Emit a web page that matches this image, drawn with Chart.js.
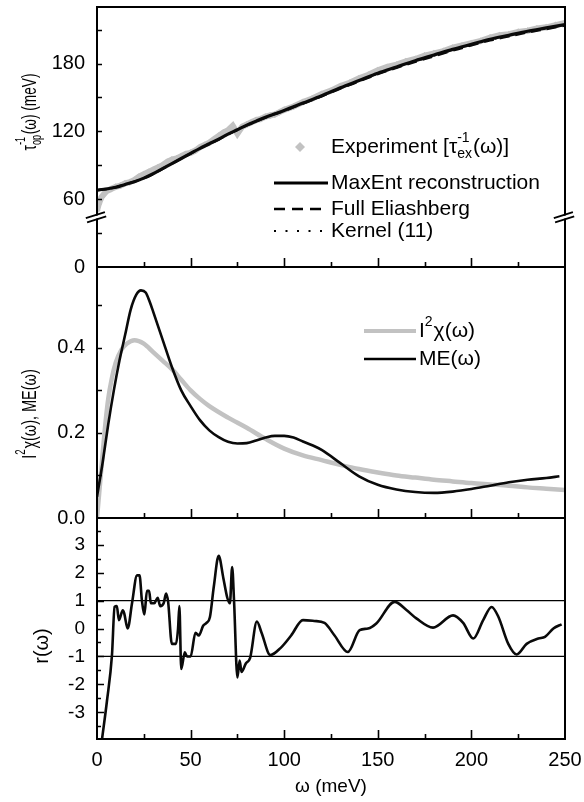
<!DOCTYPE html>
<html>
<head>
<meta charset="utf-8">
<script src="https://cdn.jsdelivr.net/npm/chart.js@4/dist/chart.umd.min.js"></script>
<style>
  body { margin: 0; background: #fff; }
  #wrap { position: relative; width: 584px; height: 802px; }
  #wrap canvas { position: absolute; left: 0; top: 0; }
</style>
</head>
<body>
<div id="wrap">
  <canvas id="tauChart" width="584" height="802"></canvas>
  <canvas id="alphaChart" width="584" height="802"></canvas>
  <canvas id="resChart" width="584" height="802"></canvas>
</div>
<script>
const FONT = '"Liberation Sans", Arial, sans-serif';

// shared omega axis
const omegaTicks = [0, 50, 100, 150, 200, 250];
const omegaMinor = [25, 75, 125, 175, 225];

// top panel: optical scattering rate (meV)
const maxEntW = [0, 5, 10, 15, 20, 25, 30, 35, 40, 45, 50, 55, 60, 65, 70, 75, 80, 85, 90, 95, 100,
  110, 120, 130, 140, 150, 160, 170, 180, 190, 200, 210, 220, 230, 240, 250];
const maxEntTau = [68, 69, 70.5, 73, 75.5, 78.6, 82.5, 87, 91.5, 96, 100.5, 105, 109, 113, 117.5, 121.5, 125.5, 129, 132.5, 135.5, 138.5,
  145, 151.5, 158.5, 165, 171.5, 177, 182.5, 187.5, 192.5, 197, 201.5, 205, 208.5, 211.5, 214.5];
const eliashTau = [68, 69, 70.5, 73, 75.5, 78.5, 82.3, 86.8, 91.3, 95.8, 100.3, 104.8, 108.8, 112.8, 117.2, 121.2, 125.2, 128.7, 132.2, 135.2, 138.2,
  144.6, 151, 157.8, 164.2, 170.6, 176.2, 181.5, 186.5, 191.5, 196, 200.5, 204, 207.5, 210.5, 213.5];
const kernelTau = [68, 69, 70.5, 73, 75.5, 78.6, 82.5, 87, 91.4, 95.9, 100.4, 104.9, 108.9, 112.9, 117.4, 121.4, 125.4, 128.9, 132.4, 135.4, 138.4,
  144.8, 151.3, 158.2, 164.6, 171, 176.6, 182, 187, 192, 196.5, 201, 204.5, 208, 211, 214];
const expW = [0, 1, 2.5, 5, 7.5, 10, 12.5, 15, 17.5, 20, 22.5, 25, 27.5, 30, 32.5, 35, 37.5, 40, 42.5, 45, 47.5,
  50, 52.5, 55, 57.5, 60, 62.5, 65, 67.5, 70, 72.5, 75, 77.5, 80, 82.5, 85, 87.5, 90, 92.5, 95, 97.5,
  100, 105, 110, 115, 120, 125, 130, 135, 140, 145, 150, 155, 160, 165, 170, 175, 180, 185, 190, 195,
  200, 205, 210, 215, 220, 225, 230, 235, 240, 245, 250];
const expTau = [50, 56, 62, 67, 69, 71, 72, 74, 75, 77, 80, 82, 84, 86, 88, 90, 93, 95, 96, 98, 100,
  101, 103, 106, 108, 110, 113, 116, 119, 121, 125, 118, 124, 126, 128, 130, 131, 133, 134, 135, 137,
  139, 142, 146, 149, 153, 156, 160, 163, 167, 170, 174, 177, 179, 182, 184, 187, 189, 191, 194, 196,
  198, 200, 203, 205, 206, 208, 209, 211, 212, 214, 216];
const tauTicks = [0, 60, 120, 180];
const tauMinor = [30, 90, 150, 210];

// middle panel: spectral functions
const chiW = [0, 2, 4, 6, 8, 10, 13, 16, 20, 25, 30, 35, 40, 45, 50, 55, 60, 70, 80, 90, 100,
  110, 120, 130, 140, 150, 160, 170, 180, 190, 200, 210, 220, 230, 240, 250];
const chiVal = [0.0, 0.1, 0.2, 0.28, 0.33, 0.365, 0.395, 0.41, 0.418, 0.41, 0.39, 0.37, 0.35, 0.325, 0.3, 0.28, 0.263, 0.236, 0.212, 0.186, 0.163,
  0.147, 0.136, 0.125, 0.115, 0.107, 0.1, 0.095, 0.09, 0.086, 0.082, 0.079, 0.076, 0.072, 0.069, 0.066];
const meW = [0, 3, 6, 9, 12, 15, 18, 21, 23.5, 26, 28, 30, 35, 40, 45, 50, 55, 60, 65, 70, 75, 80, 85, 90, 95,
  100, 105, 110, 115, 120, 130, 140, 150, 160, 170, 180, 190, 200, 210, 220, 230, 240, 247];
const meVal = [0.05, 0.13, 0.22, 0.3, 0.37, 0.43, 0.49, 0.525, 0.535, 0.53, 0.51, 0.485, 0.42, 0.355, 0.3, 0.263, 0.23, 0.206, 0.19, 0.179, 0.175, 0.176, 0.182, 0.189, 0.193,
  0.193, 0.189, 0.18, 0.171, 0.16, 0.129, 0.098, 0.078, 0.067, 0.061, 0.059, 0.062, 0.068, 0.076, 0.084, 0.09, 0.094, 0.098];
const alphaTicks = [0, 0.2, 0.4];
const alphaMinor = [0.1, 0.3, 0.5];

// bottom panel: normalized residuals
const resW = [2.7, 5.3, 8, 9.4, 10.6, 11.7, 13.8, 14.5, 16.4, 18.7, 21.4, 22.7, 24, 25.3, 26.7, 27.8, 28.8, 30.6, 32.4, 33.8,
  35.6, 36.9, 38, 40, 42.2, 43.3, 44, 45, 46.9, 48.1, 50, 52.6, 54.4, 56.7, 58.5, 60.3, 62.4, 65, 67.5, 69.6,
  71, 72.2, 73.2, 75, 76.2, 77.2, 79.5, 81.8, 85.4, 87.9, 92.6, 98, 103.7, 110, 116, 121.5, 126.8, 134, 140.3, 144.8,
  149.2, 159, 165.3, 170.6, 179.5, 190.2, 195.6, 201, 206.3, 210.8, 214.4, 219.7, 224.2, 229.5, 235.8, 239.3, 243.8, 248.2];
const resVal = [-3.95, -2.6, -0.95, 0.77, 0.8, 0.3, 0.65, 0.55, 0.0, 0.9, 1.9, 1.9, 1.0, 0.5, 1.35, 1.35, 0.9, 0.9, 1.1, 0.8,
  0.9, 1.25, 0.95, -0.55, -0.55, 0.0, 0.8, -1.45, -0.85, -1.0, -1.0, -0.15, -0.25, 0.1, 0.2, 0.4, 1.5, 2.6, 1.8, 1.1,
  0.9, 2.2, 1.0, -1.75, -1.15, -1.55, -1.25, -1.05, 0.25, -0.15, -0.95, -0.7, -0.25, 0.3, 0.27, 0.2, -0.24, -0.84, -0.06, 0.0,
  0.18, 0.95, 0.66, 0.36, 0.03, 0.47, 0.2, -0.36, 0.3, 0.77, 0.42, -0.55, -0.93, -0.55, -0.36, -0.3, 0.0, 0.15];
const resTicks = [-3, -2, -1, 0, 1, 2, 3];
const resMinor = [-3.5, -2.5, -1.5, -0.5, 0.5, 1.5, 2.5, 3.5];
const resLevels = [-1, 1];

const pts = (xs, ys) => xs.map((x, i) => ({ x, y: ys[i] }));

// text with stacked super/subscripts, e.g. ['τ', {sup:'-1', sub:'op'}, '(ω)']
function drawRich(ctx, segs, x, y, size, align) {
  const big = size + 'px ' + FONT;
  const small = Math.round(size * 0.68) + 'px ' + FONT;
  const widthOf = s => {
    if (typeof s === 'string') { ctx.font = big; return ctx.measureText(s).width; }
    ctx.font = small;
    return Math.max(s.sup ? ctx.measureText(s.sup).width : 0, s.sub ? ctx.measureText(s.sub).width : 0) + 1;
  };
  const total = segs.reduce((a, s) => a + widthOf(s), 0);
  let cx = align === 'center' ? x - total / 2 : x;
  ctx.textAlign = 'left';
  ctx.textBaseline = 'middle';
  segs.forEach(s => {
    const w = widthOf(s);
    if (typeof s === 'string') {
      ctx.font = big;
      ctx.fillText(s, cx, y);
    } else {
      ctx.font = small;
      if (s.sup) ctx.fillText(s.sup, cx, y - size * 0.42);
      if (s.sub) ctx.fillText(s.sub, cx, y + size * 0.36);
    }
    cx += w;
  });
}

function drawMark(ctx, m, x0, x1, y) {
  ctx.save();
  ctx.strokeStyle = m.color;
  ctx.fillStyle = m.color;
  if (m.kind === 'diamond') {
    const cx = (x0 + x1) / 2 - 1, r = 5;
    ctx.beginPath();
    ctx.moveTo(cx, y - r); ctx.lineTo(cx + r, y); ctx.lineTo(cx, y + r); ctx.lineTo(cx - r, y);
    ctx.closePath();
    ctx.fill();
  } else {
    ctx.lineWidth = m.width;
    ctx.setLineDash(m.dash || []);
    ctx.beginPath();
    ctx.moveTo(x0, y); ctx.lineTo(x1, y);
    ctx.stroke();
  }
  ctx.restore();
}

const decor = {
  id: 'decor',
  afterDatasetsDraw(chart, args, o) {
    const { ctx, chartArea: a, scales: { x, y } } = chart;
    ctx.save();
    ctx.strokeStyle = '#000';
    ctx.fillStyle = '#000';

    // inward tick marks
    ctx.lineWidth = 1.6;
    ctx.beginPath();
    omegaTicks.concat(omegaMinor).forEach(v => {
      if (v <= x.min || v >= x.max) return;
      const px = Math.round(x.getPixelForValue(v)) + 0.5;
      const len = omegaTicks.includes(v) ? 9 : 5;
      ctx.moveTo(px, a.bottom); ctx.lineTo(px, a.bottom - len);
    });
    o.yMajor.concat(o.yMinor).forEach(v => {
      if (v <= y.min || v >= y.max) return;
      const py = Math.round(y.getPixelForValue(v)) + 0.5;
      const len = o.yMajor.includes(v) ? o.majorLen : o.minorLen;
      ctx.moveTo(a.left, py); ctx.lineTo(a.left + len, py);
    });
    ctx.stroke();

    // frame
    ctx.lineWidth = 2;
    ctx.strokeRect(a.left, a.top, a.right - a.left, a.bottom - a.top);

    // axis break marks
    if (o.breakAt !== undefined) {
      const by = y.getPixelForValue(o.breakAt);
      [a.left - 1, a.right - 1].forEach(bx => {
        ctx.save();
        ctx.translate(bx, by);
        ctx.rotate(-0.3);
        ctx.fillStyle = '#fff';
        ctx.fillRect(-12, -1.4, 24, 2.8);
        ctx.strokeStyle = '#000';
        ctx.lineWidth = 1.8;
        ctx.beginPath();
        ctx.moveTo(-10, -2.2); ctx.lineTo(10, -2.2);
        ctx.moveTo(-10, 2.2); ctx.lineTo(10, 2.2);
        ctx.stroke();
        ctx.restore();
      });
    }

    // y axis title (rotated, condensed like the original lettering)
    ctx.save();
    ctx.translate(o.title.x, o.title.y);
    ctx.rotate(-Math.PI / 2);
    ctx.scale(o.title.squeeze || 1, 1);
    ctx.fillStyle = '#000';
    drawRich(ctx, o.title.text, 0, 0, o.title.size, 'center');
    ctx.restore();

    // legend
    (o.legend || []).forEach(item => {
      drawMark(ctx, item.mark, o.legendX0, o.legendX1, item.y);
      ctx.fillStyle = '#000';
      drawRich(ctx, item.text, o.legendX1 + 3, item.y, o.legendSize, 'left');
    });
    ctx.restore();
  }
};

function yScale(min, max, ticks, fmt, size) {
  return {
    type: 'linear', min, max,
    grid: { display: false, drawTicks: false },
    border: { display: false },
    afterFit: s => { s.width = 97; s.paddingTop = 0; s.paddingBottom = 0; },
    afterBuildTicks: s => { s.ticks = ticks.map(v => ({ value: v })); },
    ticks: { padding: 12, color: '#000', font: { family: FONT, size }, callback: fmt }
  };
}

function hiddenX() {
  return { type: 'linear', min: 0, max: 250, display: false };
}

function lineSet(data, color, width, extra) {
  return Object.assign({
    data, borderColor: color, backgroundColor: color, borderWidth: width,
    pointRadius: 0, fill: false, cubicInterpolationMode: 'monotone'
  }, extra || {});
}

// top panel
new Chart(document.getElementById('tauChart'), {
  type: 'line',
  data: {
    datasets: [
      lineSet(pts(maxEntW, maxEntTau), '#0a0a0a', 3.2),
      lineSet(pts(maxEntW, eliashTau), '#0a0a0a', 2.4, { borderDash: [10, 6] }),
      lineSet(pts(maxEntW, kernelTau), '#0a0a0a', 2, { borderDash: [2, 5] }),
      lineSet(pts(expW, expTau), '#c2c2c2', 6, {
        cubicInterpolationMode: 'default', tension: 0,
        pointRadius: 3.5, pointStyle: 'rectRot', pointBorderWidth: 0, pointBackgroundColor: '#c2c2c2'
      })
    ]
  },
  options: {
    responsive: false, animation: false,
    layout: { padding: { top: 7, bottom: 802 - 267, left: 0, right: 19 } },
    plugins: {
      legend: { display: false }, tooltip: { enabled: false },
      decor: {
        yMajor: tauTicks, yMinor: tauMinor, majorLen: 5, minorLen: 5, breakAt: 44,
        title: { x: 30, y: 112, size: 21, squeeze: 0.65, text: ['τ', { sup: '-1', sub: 'op' }, '(ω) (meV)'] },
        legendX0: 274, legendX1: 328, legendSize: 21,
        legend: [
          { y: 147, mark: { kind: 'diamond', color: '#c2c2c2' }, text: ['Experiment [τ', { sup: '-1', sub: 'ex' }, '(ω)]'] },
          { y: 183, mark: { kind: 'line', color: '#000', width: 3 }, text: ['MaxEnt reconstruction'] },
          { y: 209, mark: { kind: 'line', color: '#000', width: 2.4, dash: [11, 7] }, text: ['Full Eliashberg'] },
          { y: 231, mark: { kind: 'line', color: '#000', width: 2, dash: [2, 9.5] }, text: ['Kernel (11)'] }
        ]
      }
    },
    scales: {
      x: hiddenX(),
      y: yScale(0, 230, tauTicks, v => String(v), 20)
    }
  },
  plugins: [decor]
});

// middle panel
new Chart(document.getElementById('alphaChart'), {
  type: 'line',
  data: {
    datasets: [
      lineSet(pts(meW, meVal), '#0a0a0a', 2.6),
      lineSet(pts(chiW, chiVal), '#c2c2c2', 4.5)
    ]
  },
  options: {
    responsive: false, animation: false,
    layout: { padding: { top: 267, bottom: 802 - 518, left: 0, right: 19 } },
    plugins: {
      legend: { display: false }, tooltip: { enabled: false },
      decor: {
        yMajor: alphaTicks, yMinor: alphaMinor, majorLen: 5, minorLen: 5,
        title: { x: 30, y: 414, size: 21, squeeze: 0.69, text: ['I', { sup: '2' }, 'χ(ω), ME(ω)'] },
        legendX0: 364, legendX1: 416, legendSize: 21,
        legend: [
          { y: 331, mark: { kind: 'line', color: '#c2c2c2', width: 4 }, text: ['I', { sup: '2' }, 'χ(ω)'] },
          { y: 359, mark: { kind: 'line', color: '#000', width: 2.6 }, text: ['ME(ω)'] }
        ]
      }
    },
    scales: {
      x: hiddenX(),
      y: yScale(0, 0.59, alphaTicks, v => v.toFixed(1), 20)
    }
  },
  plugins: [decor]
});

// bottom panel
new Chart(document.getElementById('resChart'), {
  type: 'line',
  data: {
    datasets: [
      lineSet(pts(resW, resVal), '#0a0a0a', 2.6),
      lineSet(pts([0, 250], [resLevels[1], resLevels[1]]), '#000', 1.2, { cubicInterpolationMode: 'default' }),
      lineSet(pts([0, 250], [resLevels[0], resLevels[0]]), '#000', 1.2, { cubicInterpolationMode: 'default' })
    ]
  },
  options: {
    responsive: false, animation: false,
    layout: { padding: { top: 518, bottom: 0, left: 0, right: 19 } },
    plugins: {
      legend: { display: false }, tooltip: { enabled: false },
      decor: {
        yMajor: resTicks, yMinor: resMinor, majorLen: 7, minorLen: 4,
        title: { x: 42, y: 646, size: 21, squeeze: 0.95, text: ['r(ω)'] }
      }
    },
    scales: {
      x: {
        type: 'linear', min: 0, max: 250,
        grid: { display: false, drawTicks: false },
        border: { display: false },
        afterFit: s => { s.height = 802 - 739; s.paddingLeft = 0; s.paddingRight = 0; },
        afterBuildTicks: s => { s.ticks = omegaTicks.map(v => ({ value: v })); },
        ticks: { padding: 9, color: '#000', maxRotation: 0, font: { family: FONT, size: 20 } },
        title: { display: true, text: 'ω (meV)', color: '#000', font: { family: FONT, size: 19 }, padding: { top: 0, bottom: 4 } }
      },
      y: yScale(-3.95, 3.95, resTicks, v => String(v), 19)
    }
  },
  plugins: [decor]
});
</script>
</body>
</html>
